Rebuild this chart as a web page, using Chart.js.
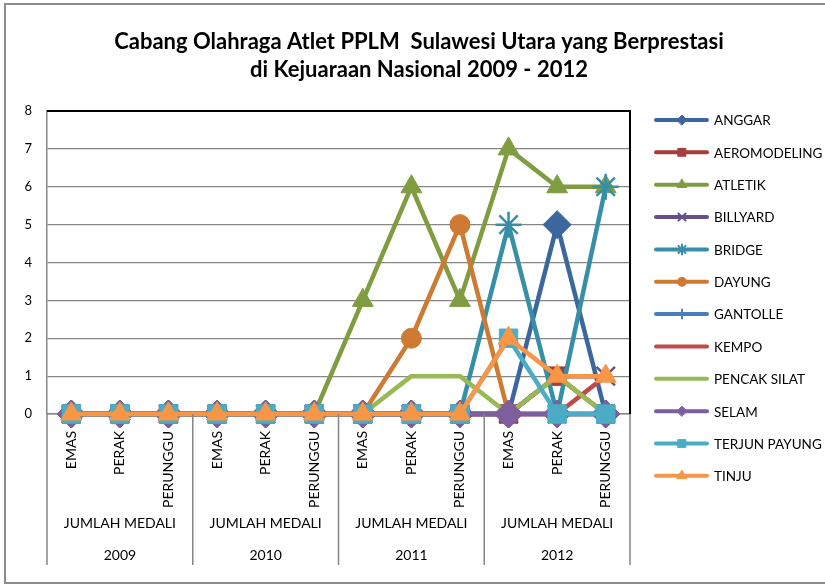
<!DOCTYPE html>
<html>
<head>
<meta charset="utf-8">
<title>Cabang Olahraga Atlet PPLM Sulawesi Utara</title>
<script src="https://cdn.jsdelivr.net/npm/chart.js@4.4.1/dist/chart.umd.min.js"></script>
<style>
  html, body { margin: 0; padding: 0; background: #fff; }
  #wrap { width: 825px; height: 584px; }
</style>
</head>
<body>
<div id="wrap"><canvas id="medalChart" width="825" height="584"></canvas></div>
<script>
// judul
const titleLines = ['Cabang Olahraga Atlet PPLM  Sulawesi Utara yang Berprestasi', 'di Kejuaraan Nasional 2009 - 2012'];

// kategori sumbu x (3 level)
const medalLabels = ['EMAS', 'PERAK', 'PERUNGGU', 'EMAS', 'PERAK', 'PERUNGGU',
                     'EMAS', 'PERAK', 'PERUNGGU', 'EMAS', 'PERAK', 'PERUNGGU'];
const groupLabel = 'JUMLAH MEDALI';
const years = ['2009', '2010', '2011', '2012'];
const yTicks = [0, 1, 2, 3, 4, 5, 6, 7, 8];

// data per cabang
const seriesNames = ['ANGGAR', 'AEROMODELING', 'ATLETIK', 'BILLYARD', 'BRIDGE', 'DAYUNG',
                     'GANTOLLE', 'KEMPO', 'PENCAK SILAT', 'SELAM', 'TERJUN PAYUNG', 'TINJU'];
const anggar       = [0, 0, 0, 0, 0, 0, 0, 0, 0, 0, 5, 0];
const aeromodeling = [0, 0, 0, 0, 0, 0, 0, 0, 0, 0, 1, 0];
const atletik      = [0, 0, 0, 0, 0, 0, 3, 6, 3, 7, 6, 6];
const billyard     = [0, 0, 0, 0, 0, 0, 0, 0, 0, 0, 1, 1];
const bridge       = [0, 0, 0, 0, 0, 0, 0, 0, 0, 5, 0, 6];
const dayung       = [0, 0, 0, 0, 0, 0, 0, 2, 5, 0, 0, 0];
const gantolle     = [0, 0, 0, 0, 0, 0, 0, 0, 0, 0, 0, 0];
const kempo        = [0, 0, 0, 0, 0, 0, 0, 0, 0, 0, 0, 1];
const pencakSilat  = [0, 0, 0, 0, 0, 0, 0, 1, 1, 0, 1, 0];
const selam        = [0, 0, 0, 0, 0, 0, 0, 0, 0, 0, 0, 0];
const terjunPayung = [0, 0, 0, 0, 0, 0, 0, 0, 0, 2, 0, 0];
const tinju        = [0, 0, 0, 0, 0, 0, 0, 0, 0, 2, 1, 1];
const seriesValues = [anggar, aeromodeling, atletik, billyard, bridge, dayung,
                      gantolle, kempo, pencakSilat, selam, terjunPayung, tinju];

// gaya
const colors = ['#3C669E', '#A63D3A', '#7F9D40', '#674F8A', '#378FA7', '#CE7A33',
                '#4A7EBB', '#BE4B48', '#98B954', '#7D5FA0', '#4BACC6', '#F79646'];
const markers = ['rectRot', 'rect', 'triangle', 'crossRot', 'star', 'circle',
                 'cross', 'circle', 'circle', 'rectRot', 'rect', 'triangle'];
const markerSize = [14, 13, 12, 13, 13, 10, 10, 0, 0, 14, 13, 12];
const legendMarkerSize = [5, 5.5, 5.5, 5, 5, 4.5, 4.5, 0, 0, 5, 5.5, 5.5];
const FONT = 'Lato, "Open Sans", sans-serif';

const datasets = seriesNames.map((name, i) => ({
  label: name,
  data: seriesValues[i],
  borderColor: colors[i],
  backgroundColor: colors[i],
  pointBackgroundColor: colors[i],
  pointBorderColor: colors[i],
  pointStyle: markers[i],
  pointRadius: markerSize[i],
  pointBorderWidth: (markers[i] === 'crossRot' || markers[i] === 'star' || markers[i] === 'cross') ? 2.5 : 1,
  borderWidth: 4.5,
  borderJoinStyle: 'round',
  borderCapStyle: 'round',
  tension: 0,
  fill: false,
  clip: false,
  order: seriesNames.length - i   // seri terakhir digambar paling atas (seperti Excel)
}));

// bingkai, judul, label sumbu x bertingkat, legenda
const excelLook = {
  id: 'excelLook',
  beforeDraw(chart) {
    const ctx = chart.ctx;
    ctx.save();
    ctx.fillStyle = '#fff';
    ctx.fillRect(0, 0, chart.width, chart.height);
    ctx.strokeStyle = '#8c8c8c';
    ctx.lineWidth = 2;
    ctx.strokeRect(5, 4, chart.width + 10, chart.height - 5);
    ctx.fillStyle = '#000';
    ctx.font = 'bold 22px ' + FONT;
    ctx.textAlign = 'center';
    ctx.textBaseline = 'middle';
    ctx.fillText(titleLines[0], 419, 42);
    ctx.fillText(titleLines[1], 419, 70);
    ctx.restore();
  },
  beforeDatasetsDraw(chart) {
    const {ctx, chartArea: a} = chart;
    ctx.save();
    ctx.strokeStyle = '#000';
    ctx.lineWidth = 2;
    ctx.beginPath();
    ctx.moveTo(a.left, a.top);
    ctx.lineTo(a.right, a.top);
    ctx.lineTo(a.right, a.bottom);
    ctx.stroke();
    ctx.restore();
  },
  afterDraw(chart) {
    const {ctx, chartArea: a} = chart;
    const xs = chart.scales.x;
    const per = medalLabels.length / years.length;
    ctx.save();
    // garis pemisah grup
    ctx.strokeStyle = '#868686';
    ctx.lineWidth = 1.5;
    const bounds = [];
    for (let g = 0; g <= years.length; g++) {
      let bx;
      if (g === 0) bx = xs.left;
      else if (g === years.length) bx = xs.right;
      else bx = (xs.getPixelForValue(g * per - 1) + xs.getPixelForValue(g * per)) / 2;
      bounds.push(bx);
      ctx.beginPath();
      ctx.moveTo(bx, a.bottom);
      ctx.lineTo(bx, 565);
      ctx.stroke();
    }
    ctx.fillStyle = '#000';
    ctx.font = '14px ' + FONT;
    ctx.textAlign = 'center';
    ctx.textBaseline = 'middle';
    years.forEach((yr, g) => {
      const cx = (bounds[g] + bounds[g + 1]) / 2;
      ctx.fillText(groupLabel, cx, 523);
      ctx.fillText(yr, cx, 555);
    });
    // legenda
    ctx.font = '13.5px ' + FONT;
    chart.data.datasets.forEach((ds, i) => {
      const y = 120 + i * 32.35;
      ctx.strokeStyle = ds.borderColor;
      ctx.fillStyle = ds.borderColor;
      ctx.lineWidth = 4;
      ctx.lineCap = 'round';
      ctx.beginPath();
      ctx.moveTo(656, y);
      ctx.lineTo(707, y);
      ctx.stroke();
      if (legendMarkerSize[i] > 0) {
        ctx.lineWidth = ds.pointBorderWidth > 1 ? 2 : 1;
        Chart.helpers.drawPoint(ctx, {pointStyle: ds.pointStyle, radius: legendMarkerSize[i], rotation: 0, borderWidth: 1}, 682, y);
      }
      ctx.fillStyle = '#000';
      ctx.textAlign = 'left';
      ctx.fillText(ds.label, 714, y + 1);
    });
    ctx.restore();
  }
};

new Chart(document.getElementById('medalChart'), {
  type: 'line',
  data: { labels: medalLabels, datasets: datasets },
  options: {
    responsive: false,
    animation: false,
    events: [],
    layout: { padding: { top: 111, right: 195, bottom: 0, left: 0 } },
    plugins: {
      legend: { display: false },
      title: { display: false },
      tooltip: { enabled: false }
    },
    scales: {
      x: {
        offset: true,
        afterFit: s => { s.height = 170; },
        grid: { display: false, drawTicks: false },
        border: { display: true, color: '#868686', width: 1.5 },
        ticks: {
          autoSkip: false,
          minRotation: 90,
          maxRotation: 90,
          padding: 17,
          color: '#000',
          font: { family: FONT, size: 14 }
        }
      },
      y: {
        min: 0,
        max: 8,
        afterFit: s => { s.width = 47; },
        afterBuildTicks: s => { s.ticks = yTicks.map(v => ({ value: v })); },
        grid: { color: '#868686', lineWidth: 1.2, drawTicks: false },
        border: { display: true, color: '#868686', width: 1.5 },
        ticks: {
          padding: 15,
          color: '#000',
          font: { family: FONT, size: 13 }
        }
      }
    }
  },
  plugins: [excelLook]
});
</script>
</body>
</html>
